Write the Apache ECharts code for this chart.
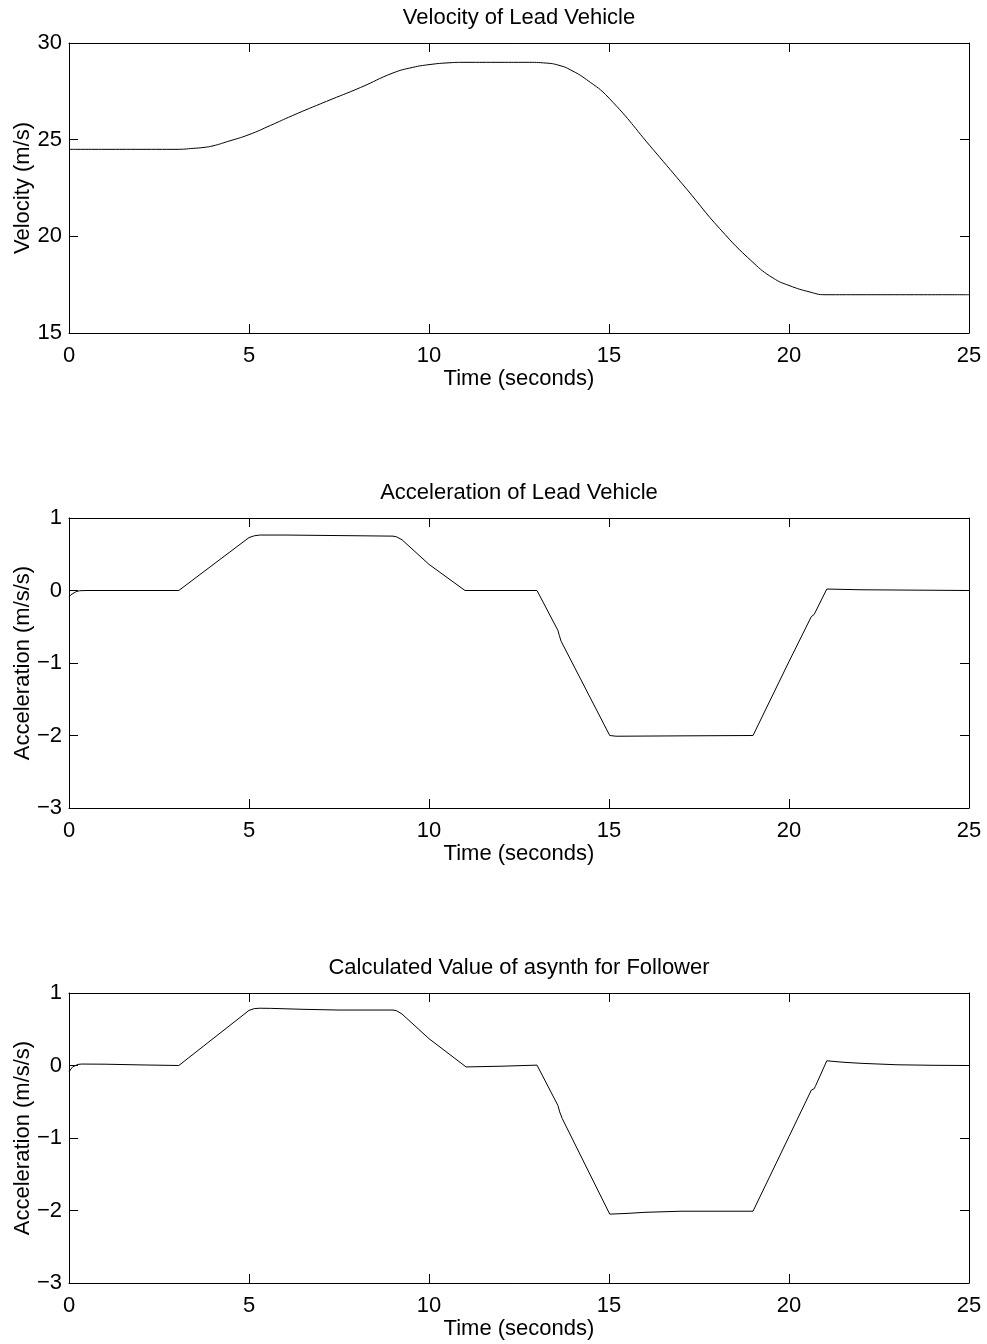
<!DOCTYPE html>
<html>
<head>
<meta charset="utf-8">
<script src="https://cdn.jsdelivr.net/npm/echarts@6/dist/echarts.min.js"></script>
<style>
html,body{margin:0;padding:0;background:#fff;}
#chart{width:987px;height:1344px;}
</style>
</head>
<body>
<div id="chart"></div>
<script>
// ---- Data ----
var titles = ['Velocity of Lead Vehicle', 'Acceleration of Lead Vehicle', 'Calculated Value of asynth for Follower'];
var xLabel = 'Time (seconds)';
var yLabels = ['Velocity (m/s)', 'Acceleration (m/s/s)', 'Acceleration (m/s/s)'];

var velT = [0, 1, 2, 3, 3.45, 3.75, 4.0, 4.4, 5.0, 5.6, 6.2, 7.15, 8.1, 9.0, 9.55, 10, 10.5, 11, 12, 12.7, 13.27, 13.64, 13.92, 14.38, 15, 16.23, 17.15, 18.08, 19.0, 19.56, 20, 20.58, 21, 22, 25];
var velV = [24.5, 24.5, 24.5, 24.5, 24.55, 24.6, 24.68, 24.9, 25.26, 25.74, 26.24, 26.98, 27.7, 28.45, 28.74, 28.88, 28.97, 29.0, 29.0, 29.0, 28.96, 28.83, 28.62, 28.1, 27.15, 24.48, 22.46, 20.39, 18.65, 17.84, 17.46, 17.12, 16.98, 16.98, 16.98];

var accT = [0, 0.05, 0.1, 0.2, 0.3, 0.5, 3.05, 5.0, 5.15, 5.3, 6, 7, 8, 9.0, 9.1, 9.25, 10, 11.0, 11.03, 12, 13.0, 13.58, 13.6, 13.62, 13.67, 15.02, 15.2, 17, 19.0, 20.0, 20.62, 20.7, 20.73, 21.05, 22, 25];
var accV = [-0.09, -0.06, -0.04, -0.015, -0.003, 0, 0, 0.73, 0.755, 0.765, 0.765, 0.76, 0.755, 0.75, 0.74, 0.70, 0.36, 0.0, -0.005, 0, 0, -0.55, -0.56, -0.62, -0.70, -2.0, -2.01, -2.005, -2.0, -0.98, -0.36, -0.33, -0.30, 0.02, 0.01, 0.0];

var synT = [0, 0.05, 0.1, 0.15, 0.25, 0.35, 1, 2, 3.05, 5.0, 5.15, 5.3, 5.6, 6.5, 7.5, 9.0, 9.1, 9.25, 10, 11.03, 12, 13.0, 13.58, 13.6, 13.63, 13.7, 15.02, 15.5, 16, 17, 19, 20, 20.62, 20.7, 20.73, 21.05, 21.5, 22, 23, 24, 25];
var synV = [-0.09, -0.05, -0.02, 0.0, 0.015, 0.02, 0.018, 0.008, 0.0, 0.76, 0.785, 0.79, 0.788, 0.775, 0.765, 0.765, 0.755, 0.71, 0.37, -0.02, -0.01, 0.005, -0.55, -0.57, -0.64, -0.73, -2.05, -2.04, -2.025, -2.01, -2.01, -0.98, -0.34, -0.32, -0.29, 0.065, 0.045, 0.03, 0.01, 0.003, 0];

var xTicks = {min: 0, max: 25, interval: 5};
var yTicks = [{min: 15, max: 30, interval: 5}, {min: -3, max: 1, interval: 1}, {min: -3, max: 1, interval: 1}];

// ---- Chart ----
var FONT = '"Liberation Sans", Arial, Helvetica, sans-serif';
var grids = [
  {left: 69, right: 18, top: 43, height: 290, outerBoundsMode: 'none', containLabel: false},
  {left: 69, right: 18, top: 518, height: 290, outerBoundsMode: 'none', containLabel: false},
  {left: 69, right: 18, top: 993, height: 290, outerBoundsMode: 'none', containLabel: false}
];
var titleTops = [7, 482, 957];

function pairs(t, v) { return t.map(function (x, i) { return [x, v[i]]; }); }
var seriesData = [pairs(velT, velV), pairs(accT, accV), pairs(synT, synV)];

var lineStyle = {color: '#000', width: 1};
var xAxes = [], yAxes = [], series = [], title = [];
for (var g = 0; g < 3; g++) {
  title.push({
    text: titles[g], left: 519, top: titleTops[g], textAlign: 'center', padding: 0,
    textStyle: {fontFamily: FONT, fontSize: 22, fontWeight: 'normal', color: '#000'}
  });
  xAxes.push({
    type: 'value', gridIndex: g, position: 'bottom', min: xTicks.min, max: xTicks.max, interval: xTicks.interval,
    axisLine: {show: true, onZero: false, lineStyle: lineStyle},
    axisTick: {show: true, inside: true, length: 9, lineStyle: lineStyle},
    axisLabel: {show: true, margin: 12, color: '#000', fontFamily: FONT, fontSize: 22},
    splitLine: {show: false},
    name: xLabel, nameLocation: 'middle', nameGap: 35, nameMoveOverlap: false,
    nameTextStyle: {color: '#000', fontFamily: FONT, fontSize: 22, verticalAlign: 'top'}
  });
  xAxes.push({
    type: 'value', gridIndex: g, position: 'top', min: xTicks.min, max: xTicks.max, interval: xTicks.interval,
    axisLine: {show: true, onZero: false, lineStyle: lineStyle},
    axisTick: {show: true, inside: true, length: 9, lineStyle: lineStyle},
    axisLabel: {show: false}, splitLine: {show: false}
  });
  yAxes.push({
    type: 'value', gridIndex: g, position: 'left', min: yTicks[g].min, max: yTicks[g].max, interval: yTicks[g].interval,
    axisLine: {show: true, onZero: false, lineStyle: lineStyle},
    axisTick: {show: true, inside: true, length: 9, lineStyle: lineStyle},
    axisLabel: {show: true, margin: 7, color: '#000', fontFamily: FONT, fontSize: 22,
      formatter: function (v) { return String(v).replace('-', '\u2212'); }},
    splitLine: {show: false},
    name: yLabels[g], nameLocation: 'middle', nameGap: 35, nameMoveOverlap: false,
    nameTextStyle: {color: '#000', fontFamily: FONT, fontSize: 22}
  });
  yAxes.push({
    type: 'value', gridIndex: g, position: 'right', min: yTicks[g].min, max: yTicks[g].max, interval: yTicks[g].interval,
    axisLine: {show: true, onZero: false, lineStyle: lineStyle},
    axisTick: {show: true, inside: true, length: 9, lineStyle: lineStyle},
    axisLabel: {show: false}, splitLine: {show: false}
  });
  series.push({
    type: 'line', xAxisIndex: 2 * g, yAxisIndex: 2 * g, data: seriesData[g],
    showSymbol: false, symbol: 'none', smooth: g === 0 ? 0.5 : false,
    lineStyle: {color: '#000', width: 1}, silent: true
  });
}

var chart = echarts.init(document.getElementById('chart'), null, {renderer: 'canvas'});
chart.setOption({
  backgroundColor: '#fff',
  animation: false,
  title: title,
  grid: grids,
  xAxis: xAxes,
  yAxis: yAxes,
  series: series
});
</script>
</body>
</html>
